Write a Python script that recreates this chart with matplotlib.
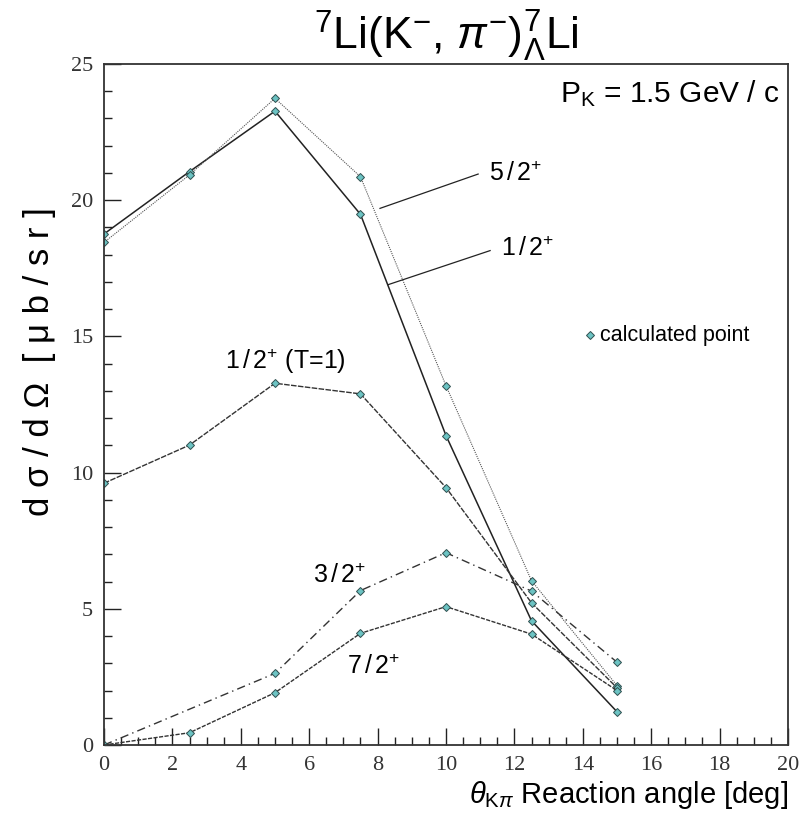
import matplotlib
matplotlib.use("Agg")
import matplotlib.pyplot as plt
from matplotlib.ticker import MultipleLocator

sans = "Liberation Sans"
plt.rcParams["mathtext.fontset"] = "custom"
plt.rcParams["mathtext.rm"] = sans
plt.rcParams["mathtext.it"] = sans + ":italic"
plt.rcParams["mathtext.bf"] = sans + ":bold"

# Reaction angle (deg) and cross sections (micro-barn / sr) for each state
angle = [0, 2.5, 5, 7.5, 10, 12.5, 15]
angle_32 = [0, 5, 7.5, 10, 12.5, 15]

xs_12 = [18.76, 21.05, 23.27, 19.48, 11.36, 4.56, 1.22]
xs_52 = [18.45, 20.93, 23.74, 20.86, 13.19, 6.03, 2.18]
xs_12_T1 = [9.61, 11.01, 13.28, 12.89, 9.45, 5.22, 2.10]
xs_32 = [0.0, 2.63, 5.67, 7.06, 5.65, 3.04]
xs_72 = [0.0, 0.45, 1.92, 4.10, 5.08, 4.07, 2.00]

x_ticks = [0, 2, 4, 6, 8, 10, 12, 14, 16, 18, 20]
y_ticks = [0, 5, 10, 15, 20, 25]

fig = plt.figure(figsize=(8.11, 8.17), dpi=100)
ax = fig.add_axes([104 / 811, 1 - 745 / 817, 684 / 811, 681 / 817])

mk = dict(marker="D", markersize=4.0, markerfacecolor="#6cc3c3",
          markeredgecolor="#2f4f4f", markeredgewidth=0.7)

ax.plot(angle, xs_12, color="#222222", lw=1.1, ls="-", **mk)
ax.plot(angle, xs_52, color="#555555", lw=0.8, ls=(0, (1, 1)), **mk)
ax.plot(angle, xs_12_T1, color="#333333", lw=1.0, ls=(0, (4, 1)), **mk)
ax.plot(angle_32, xs_32, color="#333333", lw=1.0, ls=(0, (6, 3, 1, 3)), **mk)
ax.plot(angle, xs_72, color="#333333", lw=1.0, ls=(0, (3, 1)), **mk)

ax.set_xlim(0, 20)
ax.set_ylim(0, 25)
ax.set_xticks(x_ticks)
ax.set_yticks(y_ticks)
ax.xaxis.set_minor_locator(MultipleLocator(0.5))
ax.yaxis.set_minor_locator(MultipleLocator(1))
ax.tick_params(which="both", direction="in", top=False, right=False,
               width=1.0, colors="#222222")
ax.tick_params(which="major", length=12, labelsize=16, pad=8)
ax.tick_params(which="minor", length=6)
for lab in ax.get_xticklabels() + ax.get_yticklabels():
    lab.set_family("Liberation Serif")
    lab.set_color("#333333")
for s in ax.spines.values():
    s.set_linewidth(1.3)
    s.set_color("#333333")

# state labels with leader lines
ax.plot([8.07, 10.94], [19.70, 20.96], color="#222222", lw=0.9)
ax.text(11.25, 20.96, r"5$\,$/$\,$2$^{+}$", fontsize=18, family=sans,
        va="center")
ax.plot([8.31, 11.29], [16.90, 18.15], color="#222222", lw=0.9)
ax.text(11.6, 18.2, r"1$\,$/$\,$2$^{+}$", fontsize=18, family=sans,
        va="center")
ax.text(5.3, 14.07, r"1$\,$/$\,$2$^{+}$ (T=1)", fontsize=18, family=sans,
        va="center", ha="center")
ax.text(6.1, 6.2, r"3$\,$/$\,$2$^{+}$", fontsize=18, family=sans,
        va="center")
ax.text(7.1, 2.87, r"7$\,$/$\,$2$^{+}$", fontsize=18, family=sans,
        va="center")

ax.plot([14.21], [15.05], ls="none", **mk)
ax.text(14.5, 15.05, "calculated point", fontsize=15.5, family=sans,
        va="center")
ax.text(19.75, 23.93, r"P$_\mathrm{K}$ = 1.5 GeV / c", fontsize=21.5,
        family=sans, va="center", ha="right")

fig.text(446 / 811, 1 - 36 / 817,
         r"$^{7}$Li(K$^{-}$, $\pi^{-}$)$^{7}_{\Lambda}$Li",
         fontsize=32, family=sans, ha="center", va="center")
fig.text(40 / 811, 1 - 362 / 817,
         "d σ / d Ω  [ μ b / s r ]",
         fontsize=25, family=sans, rotation=90, ha="center", va="center")
fig.text(788 / 811, 1 - 795 / 817, r"$\theta_{\mathrm{K}\pi}$ Reaction angle [deg]",
         fontsize=21, family=sans, ha="right", va="center")

fig.savefig("out.png", dpi=100)
